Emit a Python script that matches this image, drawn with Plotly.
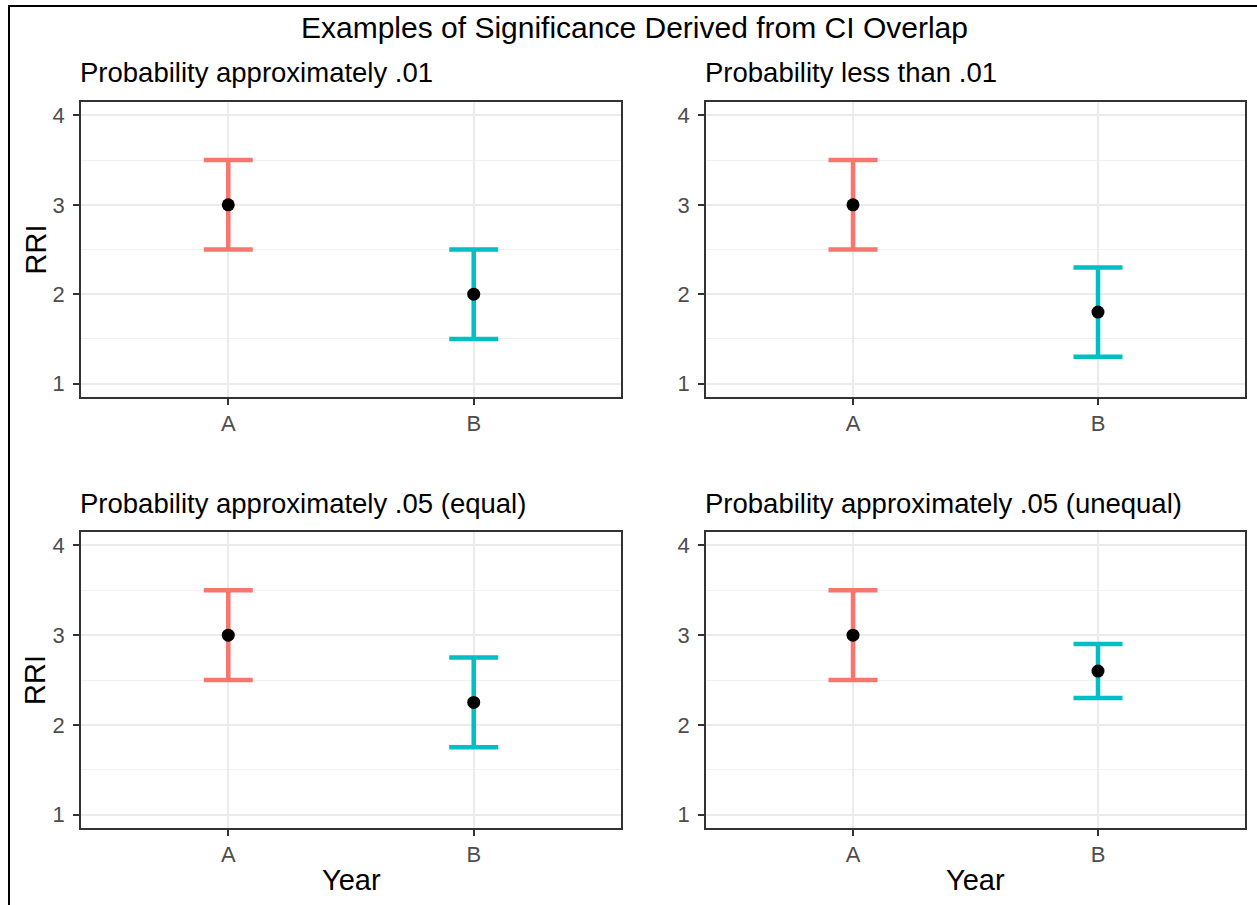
import plotly.graph_objects as go

W, H = 1257, 905

main_title = "Examples of Significance Derived from CI Overlap"
panel_titles = [
    "Probability approximately .01",
    "Probability less than .01",
    "Probability approximately .05 (equal)",
    "Probability approximately .05 (unequal)",
]
years = ["A", "B"]
rri = [[3, 2], [3, 1.8], [3, 2.25], [3, 2.6]]
lower = [[2.5, 1.5], [2.5, 1.3], [2.5, 1.75], [2.5, 2.3]]
upper = [[3.5, 2.5], [3.5, 2.3], [3.5, 2.75], [3.5, 2.9]]
year_colors = ["#F8766D", "#00BFC4"]
y_ticks = [1, 2, 3, 4]
y_label = "RRI"
x_label = "Year"

FONT = "Liberation Sans, Arial, sans-serif"

def fx(x):
    return x / W

def fy(y):
    return 1 - y / H

# panel boxes in pixels: (left, right, top, bottom)
boxes = [
    (81, 621, 102, 397),
    (706, 1245, 102, 397),
    (81, 621, 532, 828),
    (706, 1245, 532, 828),
]

fig = go.Figure()
layout = dict(
    width=W, height=H,
    margin=dict(l=0, r=0, t=0, b=0),
    paper_bgcolor="white", plot_bgcolor="white",
    showlegend=False,
    font=dict(family=FONT, color="black"),
    annotations=[], shapes=[],
)

for i in range(4):
    n = "" if i == 0 else str(i + 1)
    xa, ya = "x" + n, "y" + n
    for j, yr in enumerate(years):
        fig.add_trace(go.Scatter(
            x=[yr], y=[rri[i][j]], xaxis=xa, yaxis=ya, mode="markers",
            marker=dict(color="black", size=13),
            error_y=dict(type="data", symmetric=False,
                         array=[upper[i][j] - rri[i][j]],
                         arrayminus=[rri[i][j] - lower[i][j]],
                         color=year_colors[j], thickness=4.5, width=24.5),
            hoverinfo="skip",
        ))
    l, r, t, b = boxes[i]
    axis_common = dict(
        showline=True, mirror=True, linecolor="#333333", linewidth=1.5,
        ticks="outside", ticklen=6, tickwidth=1.5, tickcolor="#333333",
        tickfont=dict(size=22, color="#4D4D4D", family=FONT),
        gridcolor="#EBEBEB", gridwidth=1.5, zeroline=False,
    )
    layout["xaxis" + n] = dict(
        axis_common, domain=[fx(l), fx(r)], anchor=ya,
        type="category", categoryorder="array", categoryarray=years,
        range=[-0.6, 1.6], ticklabelstandoff=0,
    )
    layout["yaxis" + n] = dict(
        axis_common, domain=[fy(b), fy(t)], anchor=xa,
        range=[0.85, 4.15], tickvals=y_ticks, ticklabelstandoff=4,
        minor=dict(dtick=0.5, tick0=0.5, showgrid=True, gridcolor="#F0F0F0",
                   gridwidth=0.8, ticks=""),
    )
    layout["annotations"].append(dict(
        text=panel_titles[i], x=fx(l - 3), y=fy(t - 29), xref="paper", yref="paper",
        xanchor="left", yanchor="middle", showarrow=False,
        font=dict(size=27.5, color="black", family=FONT),
    ))
    if i in (0, 2):
        layout["annotations"].append(dict(
            text=y_label, x=fx(35), y=fy((t + b) / 2), xref="paper", yref="paper",
            xanchor="center", yanchor="middle", showarrow=False, textangle=-90,
            font=dict(size=29, color="black", family=FONT),
        ))
    if i in (2, 3):
        layout["annotations"].append(dict(
            text=x_label, x=fx((l + r) / 2), y=fy(880), xref="paper", yref="paper",
            xanchor="center", yanchor="middle", showarrow=False,
            font=dict(size=29, color="black", family=FONT),
        ))

layout["annotations"].append(dict(
    text=main_title, x=fx(634), y=fy(28), xref="paper", yref="paper",
    xanchor="center", yanchor="middle", showarrow=False,
    font=dict(size=30, color="black", family=FONT),
))
layout["shapes"].append(dict(
    type="rect", xref="paper", yref="paper",
    x0=fx(9), x1=fx(1270), y0=fy(920), y1=fy(6),
    line=dict(color="black", width=2), fillcolor="rgba(0,0,0,0)", layer="above",
))

fig.update_layout(**layout)
fig.write_html("out.html")
